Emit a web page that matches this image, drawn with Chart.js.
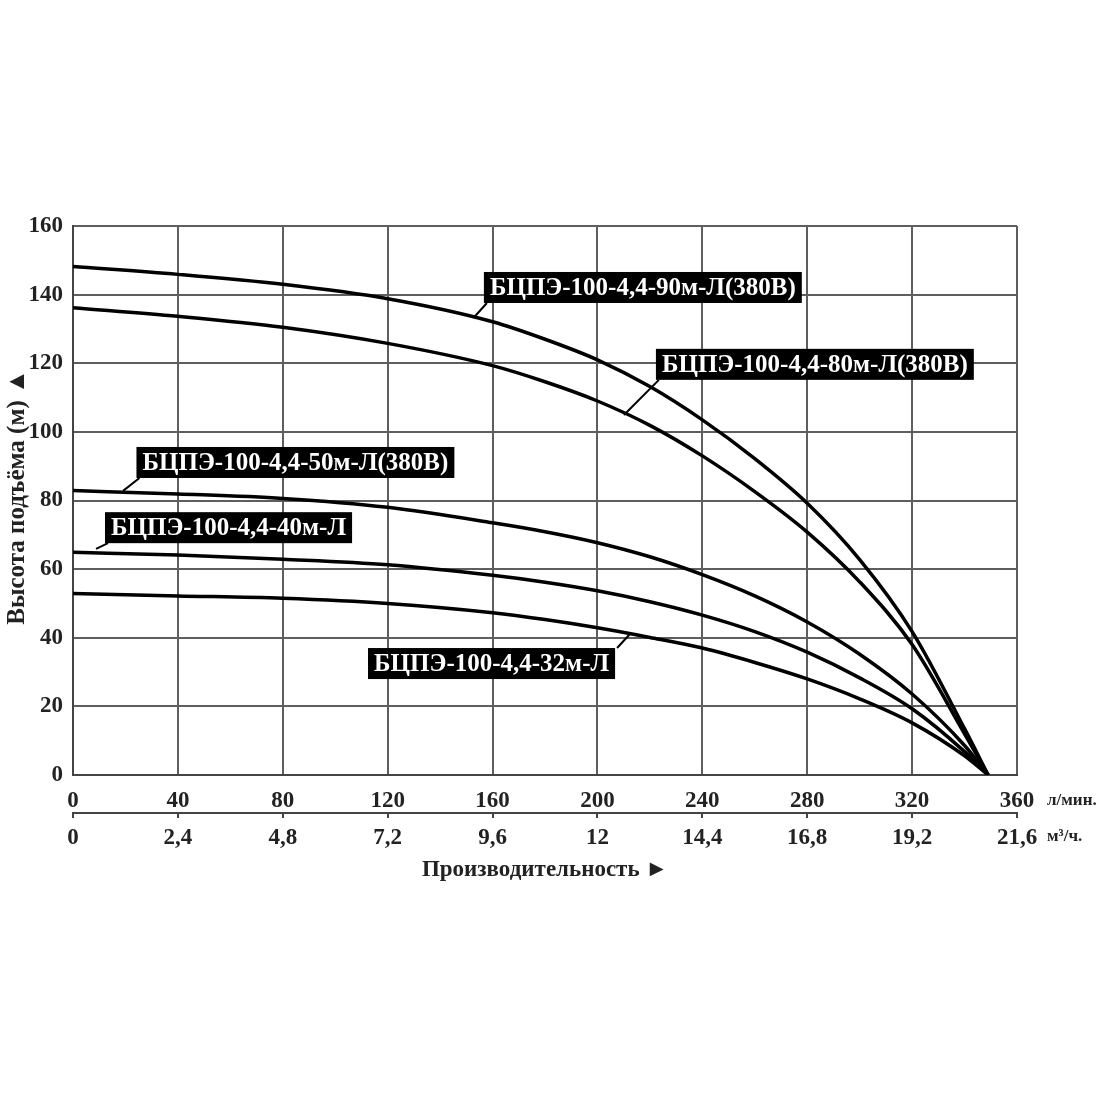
<!DOCTYPE html>
<html>
<head>
<meta charset="utf-8">
<script src="https://cdn.jsdelivr.net/npm/chart.js@4.4.1/dist/chart.umd.min.js"></script>
<style>
  html, body { margin: 0; padding: 0; background: #fff; }
</style>
</head>
<body>
<canvas id="pumpChart" width="1100" height="1100"></canvas>
<script>
// flow, l/min
const flow = [0, 40, 80, 120, 160, 180, 200, 220, 240, 260, 280, 300, 320, 340, 349];
// head, m
const head90 = [148.2, 145.9, 143, 138.8, 132.1, 127, 121, 113.2, 103.5, 92.2, 79.2, 62.8, 41.8, 13.5, 0];
const head80 = [136.2, 133.7, 130.5, 125.8, 119.3, 114.6, 109, 101.9, 93, 82.6, 70.8, 56.3, 38, 12, 0];
const head50 = [82.9, 81.9, 80.6, 78, 73.5, 70.9, 67.7, 63.6, 58.4, 52.2, 44.6, 35.2, 23.6, 8.6, 0];
const head40 = [64.9, 64.1, 62.9, 61.3, 58.2, 56.2, 53.7, 50.5, 46.6, 41.8, 35.8, 28.3, 19.3, 6.8, 0];
const head32 = [52.9, 52.2, 51.5, 50, 47.3, 45.3, 42.9, 40.1, 37, 32.8, 28, 22.2, 15.2, 5.6, 0];

const seriesNames = [
  "БЦПЭ-100-4,4-90м-Л(380В)",
  "БЦПЭ-100-4,4-80м-Л(380В)",
  "БЦПЭ-100-4,4-50м-Л(380В)",
  "БЦПЭ-100-4,4-40м-Л",
  "БЦПЭ-100-4,4-32м-Л",
];
// second x axis, m3/h
const m3Labels = ["0", "2,4", "4,8", "7,2", "9,6", "12", "14,4", "16,8", "19,2", "21,6"];

const serif = "'Liberation Serif', 'DejaVu Serif', serif";
const tickFont = { family: serif, size: 23, weight: "bold" };

function toPoints(ys) {
  return flow.map((x, i) => ({ x: x, y: ys[i] }));
}

const allHeads = [head90, head80, head50, head40, head32];
const datasets = allHeads.map((h, i) => ({
  label: seriesNames[i],
  data: toPoints(h),
  borderColor: "#000",
  borderWidth: 3.5,
  pointRadius: 0,
  fill: false,
  cubicInterpolationMode: "monotone",
}));

// callout boxes: box top-left in data units, pointer start on the curve
const callouts = [
  { text: seriesNames[0], box: [156.7, 146.6], from: [152.7, 133.2], corner: "bl" },
  { text: seriesNames[1], box: [222.3, 124.2], from: [210.1, 104.9], corner: "bl" },
  { text: seriesNames[2], box: [24.2, 95.6], from: [19.1, 82.8], corner: "bl" },
  { text: seriesNames[3], box: [12.2, 76.6], from: [8.8, 65.9], corner: "bl" },
  { text: seriesNames[4], box: [112.5, 37.0], from: [212.4, 41.1], corner: "tr" },
];

const decorPlugin = {
  id: "decor",
  afterDraw(chart) {
    const ctx = chart.ctx;
    const xs = chart.scales.x;
    const ys = chart.scales.y;
    ctx.save();

    // callouts
    ctx.font = "bold 25px " + serif;
    ctx.textBaseline = "middle";
    ctx.textAlign = "left";
    callouts.forEach((c) => {
      const bx = xs.getPixelForValue(c.box[0]);
      const by = ys.getPixelForValue(c.box[1]);
      const w = ctx.measureText(c.text).width + 12;
      const h = 31;
      const px = xs.getPixelForValue(c.from[0]);
      const py = ys.getPixelForValue(c.from[1]);
      let ex, ey;
      if (c.corner === "tr") { ex = bx + w + 2; ey = by; }
      else { ex = bx + 3; ey = by + h; }
      ctx.strokeStyle = "#000";
      ctx.lineWidth = 2;
      ctx.beginPath();
      ctx.moveTo(px, py);
      ctx.lineTo(ex, ey);
      ctx.stroke();
      ctx.fillStyle = "#000";
      ctx.fillRect(bx, by, w, h);
      ctx.fillStyle = "#fff";
      ctx.fillText(c.text, bx + 6, by + h / 2 + 1);
    });

    // axis titles
    ctx.fillStyle = "#222";
    ctx.font = "bold 23px " + serif;
    ctx.textAlign = "center";
    ctx.fillText("Производительность ►", (chart.chartArea.left + chart.chartArea.right) / 2, 870);

    ctx.save();
    ctx.font = "bold 25px " + serif;
    ctx.translate(18, 497);
    ctx.rotate(-Math.PI / 2);
    ctx.fillText("Высота подъёма (м) ▲", 0, 0);
    ctx.restore();

    // units
    ctx.font = "bold 17px " + serif;
    ctx.textAlign = "left";
    ctx.fillText("л/мин.", chart.chartArea.right + 30, 801);
    ctx.fillText("м³/ч.", chart.chartArea.right + 30, 837);

    ctx.restore();
  },
};

const gridStyle = { color: "#5e5e5e", lineWidth: 2, drawTicks: false };
const borderStyle = { color: "#444", width: 2 };

new Chart(document.getElementById("pumpChart"), {
  type: "line",
  data: { datasets: datasets },
  options: {
    responsive: false,
    animation: false,
    devicePixelRatio: 1,
    layout: { padding: { left: 0, right: 83, top: 226, bottom: 0 } },
    plugins: { legend: { display: false }, tooltip: { enabled: false } },
    scales: {
      x: {
        type: "linear",
        position: "bottom",
        weight: 0,
        min: 0,
        max: 360,
        ticks: { stepSize: 40, padding: 12, maxRotation: 0, color: "#222", font: tickFont },
        grid: gridStyle,
        border: borderStyle,
        afterFit(s) { s.height = 38; },
      },
      x2: {
        type: "linear",
        position: "bottom",
        weight: 1,
        min: 0,
        max: 360,
        ticks: {
          stepSize: 40,
          padding: 6,
          maxRotation: 0,
          color: "#222",
          font: tickFont,
          callback: (v, i) => m3Labels[i],
        },
        grid: { drawOnChartArea: false, drawTicks: true, tickLength: 5, color: "#444", lineWidth: 2 },
        border: borderStyle,
        afterFit(s) { s.height = 287; },
      },
      y: {
        min: 0,
        max: 160,
        ticks: { stepSize: 20, padding: 10, color: "#222", font: tickFont },
        grid: gridStyle,
        border: borderStyle,
        afterFit(s) { s.width = 73; },
      },
    },
  },
  plugins: [decorPlugin],
});
</script>
</body>
</html>
